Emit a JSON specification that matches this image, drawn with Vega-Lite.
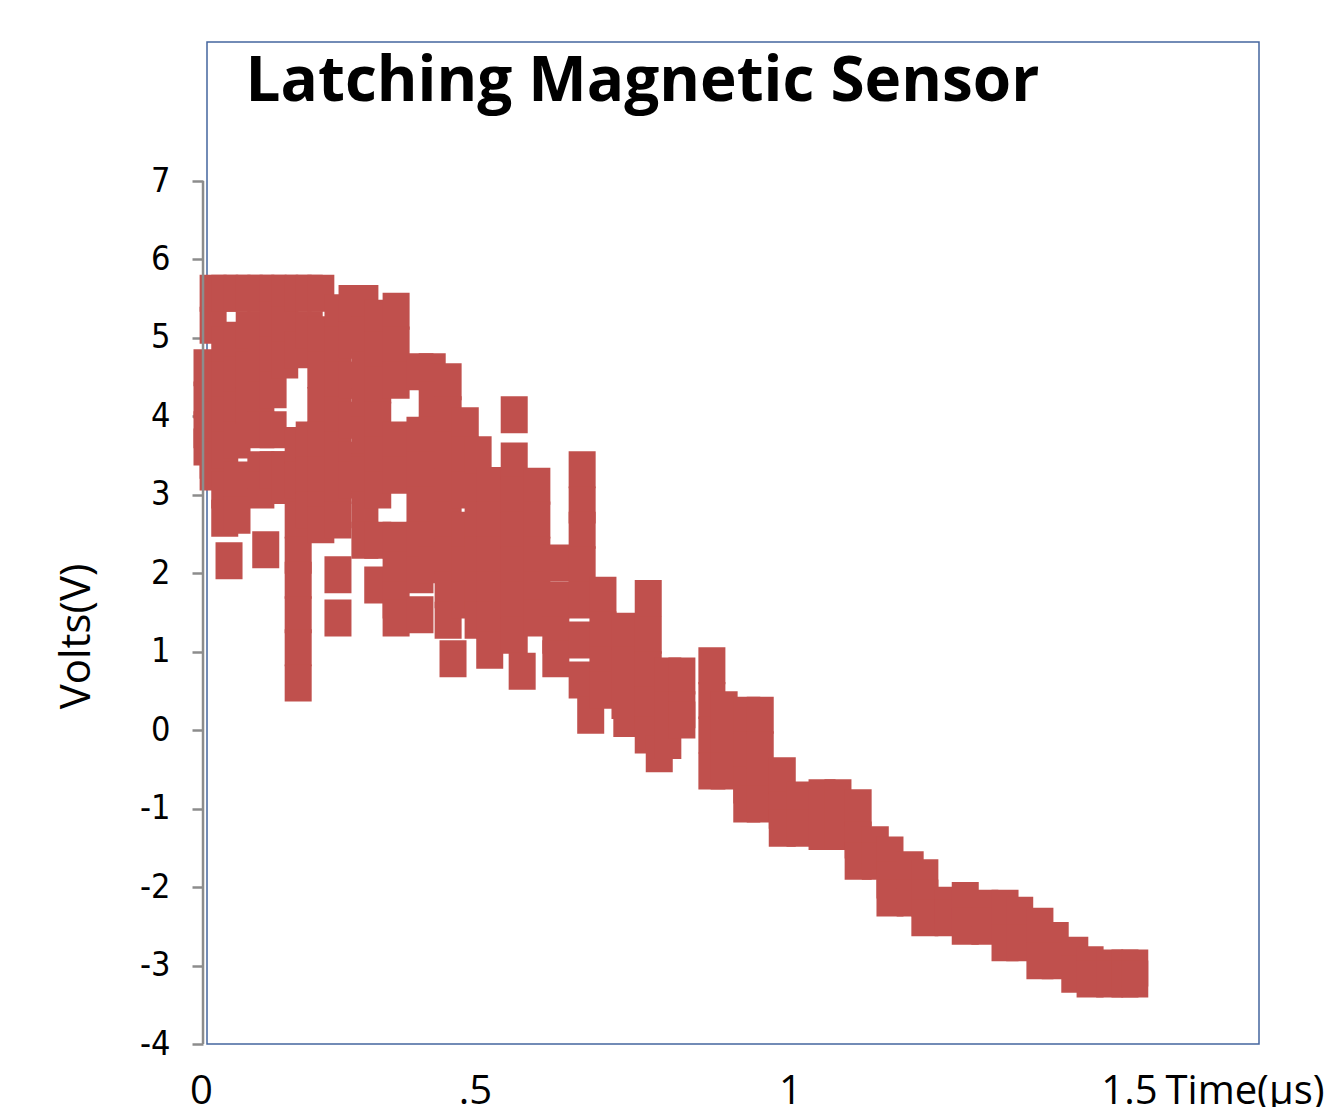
{
  "$schema": "https://vega.github.io/schema/vega-lite/v6.json",
  "width": 1052,
  "height": 1002,
  "autosize": {"type": "none"},
  "padding": {"left": 207, "top": 42, "right": 69, "bottom": 63},
  "background": "white",
  "config": {"view": {"stroke": "#44659E", "strokeWidth": 1.5}},
  "resolve": {"axis": {"x": "independent"}},
  "layer": [
    {
      "data": {"values": [
        {"t":0,"v":4.62},{"t":0,"v":4.21},{"t":0,"v":3.83},{"t":0,"v":3.61},
        {"t":0.010,"v":5.57},{"t":0.010,"v":5.16},{"t":0.010,"v":4.46},{"t":0.010,"v":3.95},{"t":0.010,"v":3.44},{"t":0.010,"v":3.29},
        {"t":0.029,"v":5.57},{"t":0.029,"v":4.91},{"t":0.029,"v":4.46},{"t":0.029,"v":4.02},{"t":0.029,"v":3.57},{"t":0.029,"v":3.06},{"t":0.029,"v":2.70},
        {"t":0.036,"v":2.16},
        {"t":0.049,"v":5.57},{"t":0.049,"v":4.97},{"t":0.049,"v":4.53},{"t":0.049,"v":4.08},{"t":0.049,"v":3.70},{"t":0.049,"v":3.19},{"t":0.049,"v":2.74},
        {"t":0.069,"v":5.57},{"t":0.069,"v":5.10},{"t":0.069,"v":4.59},{"t":0.069,"v":4.14},
        {"t":0.088,"v":5.57},{"t":0.088,"v":5.10},{"t":0.088,"v":4.65},{"t":0.088,"v":4.21},{"t":0.088,"v":3.83},{"t":0.088,"v":3.32},{"t":0.088,"v":3.06},
        {"t":0.096,"v":2.30},
        {"t":0.108,"v":5.57},{"t":0.108,"v":5.23},{"t":0.108,"v":4.78},{"t":0.108,"v":4.34},{"t":0.108,"v":3.83},{"t":0.108,"v":3.32},
        {"t":0.127,"v":5.57},{"t":0.127,"v":5.16},{"t":0.127,"v":4.72},{"t":0.127,"v":3.32},{"t":0.127,"v":3.12},
        {"t":0.149,"v":5.57},{"t":0.149,"v":4.85},{"t":0.149,"v":3.63},{"t":0.149,"v":3.19},{"t":0.149,"v":2.68},{"t":0.149,"v":2.23},{"t":0.149,"v":1.91},{"t":0.149,"v":1.47},{"t":0.149,"v":1.05},{"t":0.149,"v":0.60},
        {"t":0.167,"v":5.57},{"t":0.167,"v":5.10},{"t":0.167,"v":3.70},{"t":0.167,"v":3.25},{"t":0.167,"v":2.81},
        {"t":0.186,"v":5.57},{"t":0.186,"v":5.04},{"t":0.186,"v":4.59},{"t":0.186,"v":4.14},{"t":0.186,"v":3.70},{"t":0.186,"v":3.25},{"t":0.186,"v":2.81},{"t":0.186,"v":2.62},
        {"t":0.214,"v":5.32},{"t":0.214,"v":4.91},{"t":0.214,"v":4.46},{"t":0.214,"v":4.02},{"t":0.214,"v":3.57},{"t":0.214,"v":3.12},{"t":0.214,"v":2.68},{"t":0.214,"v":1.98},{"t":0.214,"v":1.43},
        {"t":0.237,"v":5.44},{"t":0.237,"v":4.97},{"t":0.237,"v":4.46},{"t":0.237,"v":3.95},{"t":0.237,"v":3.44},{"t":0.237,"v":3.19},
        {"t":0.258,"v":5.44},{"t":0.258,"v":5.04},{"t":0.258,"v":4.59},{"t":0.258,"v":4.14},{"t":0.258,"v":3.76},{"t":0.258,"v":3.25},{"t":0.258,"v":2.81},{"t":0.258,"v":2.42},
        {"t":0.279,"v":5.25},{"t":0.279,"v":4.85},{"t":0.279,"v":4.40},{"t":0.279,"v":3.95},{"t":0.279,"v":3.51},{"t":0.279,"v":3.06},{"t":0.279,"v":2.42},{"t":0.279,"v":1.85},
        {"t":0.309,"v":5.34},{"t":0.309,"v":4.91},{"t":0.309,"v":4.46},{"t":0.309,"v":3.70},{"t":0.309,"v":3.25},{"t":0.309,"v":2.42},{"t":0.309,"v":2.04},{"t":0.309,"v":1.66},{"t":0.309,"v":1.43},
        {"t":0.348,"v":4.57},{"t":0.348,"v":3.76},{"t":0.348,"v":3.32},{"t":0.348,"v":2.87},{"t":0.348,"v":2.42},{"t":0.348,"v":1.98},{"t":0.348,"v":1.47},
        {"t":0.368,"v":4.57},{"t":0.368,"v":4.21},{"t":0.368,"v":3.76},{"t":0.368,"v":3.32},{"t":0.368,"v":2.87},{"t":0.368,"v":2.42},{"t":0.368,"v":2.11},
        {"t":0.394,"v":4.44},{"t":0.394,"v":4.02},{"t":0.394,"v":3.57},{"t":0.394,"v":3.12},{"t":0.394,"v":2.68},{"t":0.394,"v":2.23},{"t":0.394,"v":1.79},{"t":0.394,"v":1.40},
        {"t":0.402,"v":0.91},
        {"t":0.422,"v":3.88},{"t":0.422,"v":3.51},{"t":0.422,"v":3.06},{"t":0.422,"v":2.55},{"t":0.422,"v":2.11},{"t":0.422,"v":1.66},
        {"t":0.443,"v":3.51},{"t":0.443,"v":2.68},{"t":0.443,"v":2.23},{"t":0.443,"v":1.79},{"t":0.443,"v":1.40},
        {"t":0.462,"v":3.12},{"t":0.462,"v":2.68},{"t":0.462,"v":2.23},{"t":0.462,"v":1.79},{"t":0.462,"v":1.40},{"t":0.462,"v":1.02},
        {"t":0.502,"v":4.02},{"t":0.502,"v":3.43},{"t":0.502,"v":3.00},{"t":0.502,"v":2.55},{"t":0.502,"v":2.11},{"t":0.502,"v":1.66},{"t":0.502,"v":1.21},
        {"t":0.515,"v":0.75},
        {"t":0.539,"v":3.11},{"t":0.539,"v":2.68},{"t":0.539,"v":2.23},{"t":0.539,"v":1.79},{"t":0.539,"v":1.43},
        {"t":0.570,"v":2.13},{"t":0.570,"v":1.66},{"t":0.570,"v":1.21},{"t":0.570,"v":0.91},
        {"t":0.613,"v":3.32},{"t":0.613,"v":2.87},{"t":0.613,"v":2.55},{"t":0.613,"v":2.11},{"t":0.613,"v":1.66},{"t":0.613,"v":1.15},{"t":0.613,"v":0.64},
        {"t":0.627,"v":0.19},
        {"t":0.647,"v":1.72},{"t":0.647,"v":1.28},{"t":0.647,"v":0.83},{"t":0.647,"v":0.51},
        {"t":0.683,"v":1.26},{"t":0.683,"v":0.83},{"t":0.683,"v":0.38},
        {"t":0.686,"v":0.15},
        {"t":0.721,"v":1.68},{"t":0.721,"v":1.21},{"t":0.721,"v":0.77},{"t":0.721,"v":0.32},{"t":0.721,"v":-0.06},
        {"t":0.739,"v":-0.30},
        {"t":0.753,"v":0.69},{"t":0.753,"v":0.26},{"t":0.753,"v":-0.13},
        {"t":0.776,"v":0.69},{"t":0.776,"v":0.26},{"t":0.776,"v":0.13},
        {"t":0.825,"v":0.82},{"t":0.825,"v":0.38},{"t":0.825,"v":-0.06},{"t":0.825,"v":-0.52},
        {"t":0.845,"v":0.26},{"t":0.845,"v":-0.13},{"t":0.845,"v":-0.52},
        {"t":0.882,"v":0.19},{"t":0.882,"v":-0.25},{"t":0.882,"v":-0.70},{"t":0.882,"v":-0.94},
        {"t":0.904,"v":0.19},{"t":0.904,"v":-0.25},{"t":0.904,"v":-0.64},{"t":0.904,"v":-0.94},
        {"t":0.940,"v":-0.58},{"t":0.940,"v":-1.02},{"t":0.940,"v":-1.25},
        {"t":0.969,"v":-0.89},{"t":0.969,"v":-1.25},
        {"t":1.005,"v":-0.86},{"t":1.005,"v":-1.29},
        {"t":1.031,"v":-0.86},{"t":1.031,"v":-1.29},
        {"t":1.064,"v":-0.99},{"t":1.064,"v":-1.40},{"t":1.064,"v":-1.67},
        {"t":1.092,"v":-1.46},{"t":1.092,"v":-1.67},
        {"t":1.116,"v":-1.59},{"t":1.116,"v":-1.91},{"t":1.116,"v":-2.14},
        {"t":1.149,"v":-1.78},{"t":1.149,"v":-2.14},
        {"t":1.173,"v":-1.88},{"t":1.173,"v":-2.14},{"t":1.173,"v":-2.39},
        {"t":1.211,"v":-2.23},{"t":1.211,"v":-2.39},
        {"t":1.239,"v":-2.17},{"t":1.239,"v":-2.50},
        {"t":1.271,"v":-2.27},{"t":1.271,"v":-2.50},
        {"t":1.304,"v":-2.27},{"t":1.304,"v":-2.71},
        {"t":1.328,"v":-2.36},{"t":1.328,"v":-2.71},
        {"t":1.361,"v":-2.50},{"t":1.361,"v":-2.94},
        {"t":1.386,"v":-2.68},{"t":1.386,"v":-2.94},
        {"t":1.418,"v":-2.87},{"t":1.418,"v":-3.11},
        {"t":1.443,"v":-2.99},{"t":1.443,"v":-3.17},
        {"t":1.475,"v":-3.03},{"t":1.475,"v":-3.17},
        {"t":1.500,"v":-3.03},{"t":1.500,"v":-3.17},
        {"t":1.516,"v":-3.03},{"t":1.516,"v":-3.17}
      ]},
      "mark": {"type": "point", "shape": "M-0.73,-1H0.73V1H-0.73Z", "size": 1369, "filled": true, "color": "#C0504D", "opacity": 1, "strokeWidth": 0},
      "encoding": {
        "x": {
          "field": "t", "type": "quantitative",
          "scale": {"domain": [0, 1.719], "nice": false, "zero": false},
          "axis": {
            "orient": "bottom",
            "title": "Time(µs)", "values": [0, 0.5, 1, 1.5],
            "labelExpr": "datum.value == 0.5 ? '.5' : '' + datum.value",
            "domain": false, "ticks": false, "tickSize": 0, "grid": false,
            "labelFont": "Open Sans", "labelFontSize": 40, "labelColor": "#000000",
            "labelBaseline": "alphabetic", "labelPadding": 59, "labelFlush": false, "labelOverlap": false,
            "labelOffset": {"condition": [{"test": "datum.value == 0", "value": -6}, {"test": "datum.value == 0.5", "value": -38}, {"test": "datum.value == 1", "value": -29}], "value": 4},
            "titleFont": "Open Sans", "titleFontSize": 40, "titleFontWeight": "normal", "titleColor": "#000000",
            "titleX": 958, "titleY": 59, "titleAlign": "left", "titleBaseline": "alphabetic"
          }
        },
        "y": {
          "field": "v", "type": "quantitative",
          "scale": {"domain": [-4, 8.772], "nice": false, "zero": false},
          "axis": {
            "title": "Volts(V)", "values": [-4, -3, -2, -1, 0, 1, 2, 3, 4, 5, 6, 7],
            "labelExpr": "'' + datum.value",
            "domain": false, "grid": false, "ticks": true, "tickSize": 11, "tickWidth": 2.5, "tickColor": "#8c8c8c",
            "offset": 4,
            "labelFont": "DejaVu Sans Condensed, Liberation Sans, sans-serif", "labelFontSize": 34, "labelColor": "#000000",
            "labelPadding": 22, "labelBaseline": "middle", "labelFlush": false, "labelOverlap": false,
            "titleFont": "Open Sans", "titleFontSize": 42, "titleFontWeight": "normal", "titleColor": "#000000",
            "titleAngle": 270, "titleX": -127, "titleY": 594, "titleAlign": "center", "titleBaseline": "middle"
          }
        }
      }
    },
    {
      "data": {"values": [{}]},
      "mark": {"type": "rule", "color": "#8c8c8c", "strokeWidth": 2.5},
      "encoding": {
        "x": {
          "datum": -0.0065, "type": "quantitative",
          "axis": {
            "orient": "top", "title": "Latching Magnetic Sensor",
            "labels": false, "ticks": false, "domain": false, "grid": false,
            "titleFont": "Open Sans", "titleFontSize": 62, "titleFontWeight": "bold", "titleColor": "#000000",
            "titleX": 38, "titleY": 58, "titleAlign": "left", "titleBaseline": "alphabetic", "titleAngle": 0
          }
        },
        "y": {"datum": -4, "type": "quantitative"},
        "y2": {"datum": 7}
      }
    }
  ]
}
